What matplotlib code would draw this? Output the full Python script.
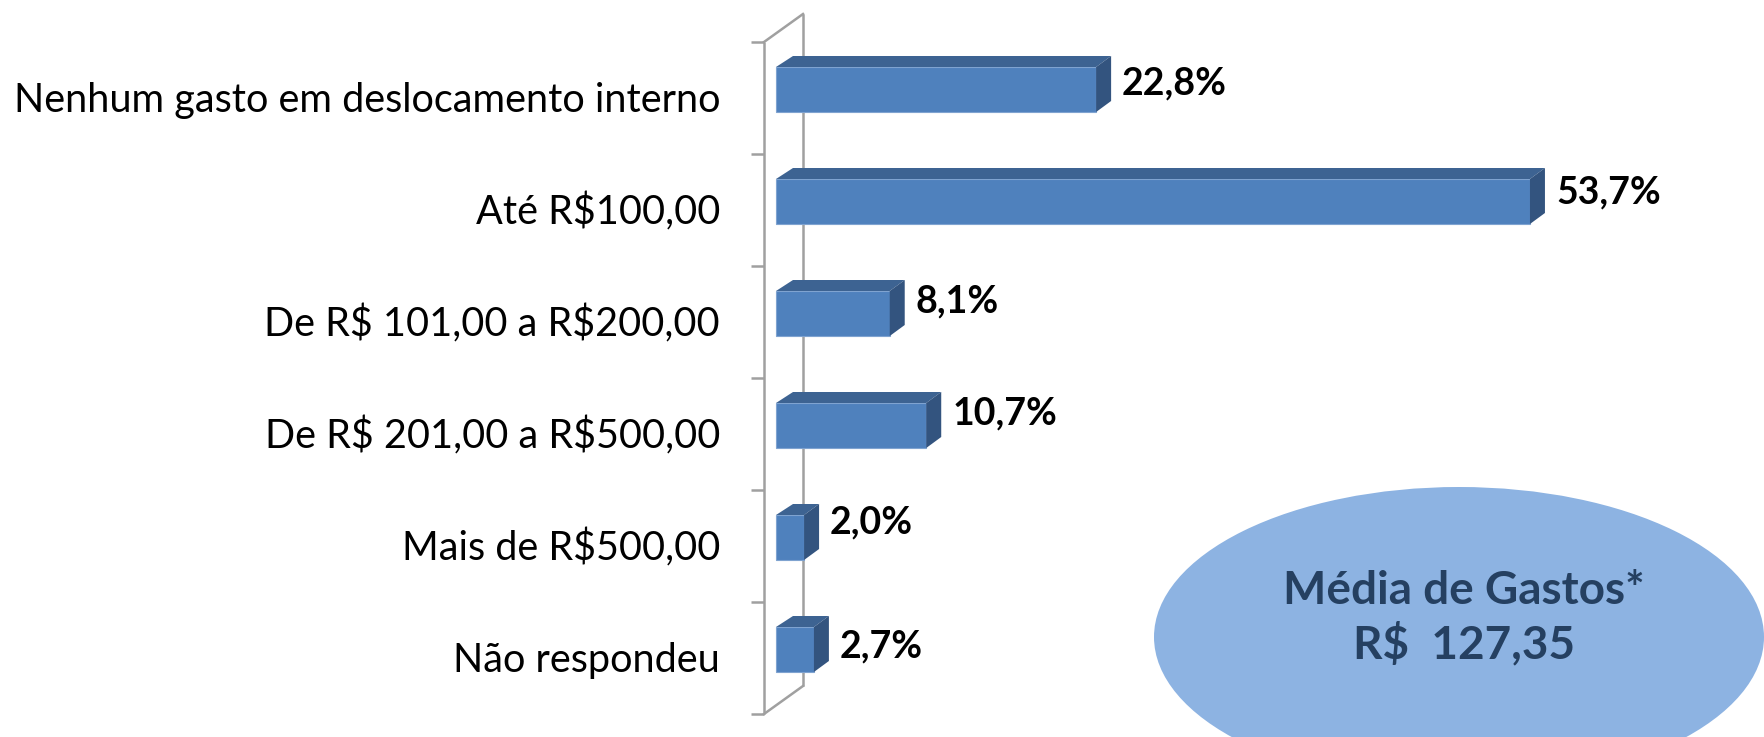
import matplotlib
matplotlib.use("Agg")
import matplotlib.pyplot as plt
from matplotlib.patches import Polygon, Rectangle, Ellipse

plt.rcParams["text.parse_math"] = False

categories = ["Nenhum gasto em deslocamento interno", "Até R$100,00",
              "De R$ 101,00 a R$200,00", "De R$ 201,00 a R$500,00",
              "Mais de R$500,00", "Não respondeu"]
values = [22.8, 53.7, 8.1, 10.7, 2.0, 2.7]
value_labels = ["22,8%", "53,7%", "8,1%", "10,7%", "2,0%", "2,7%"]
note_title = "Média de Gastos*"
note_value = "R$  127,35"

# layout (pixel-based scale helpers)
W, H, DPI = 17.65, 7.37, 100
PX_PER_PCT = 14.04
PX_PER_BAND = 112.0
X0_PX, Y0_PX = 776, 98

def px_x(p):
    return p / PX_PER_PCT

def px_y(p):
    return p / PX_PER_BAND

FONT = "Lato"
front_c = "#4F81BD"
top_c = "#3D6392"
side_c = "#33547F"
wall_c = "#A0A0A0"

fig = plt.figure(figsize=(W, H), dpi=DPI)
ax = fig.add_axes([0, 0, 1, 1])
ax.set_xlim(-X0_PX / PX_PER_PCT, (W * DPI - X0_PX) / PX_PER_PCT)
ax.set_ylim((H * DPI - Y0_PX) / PX_PER_BAND, -Y0_PX / PX_PER_BAND)
ax.axis("off")

n = len(categories)
# wall / axis
fx = px_x(-12)
bx = px_x(27)
wdy = px_y(-28)
top = -0.5
bot = n - 0.5
ax.plot([fx, fx], [top, bot], color=wall_c, lw=1.8, zorder=1, solid_capstyle="butt")
ax.plot([bx, bx], [top + wdy, bot + wdy], color=wall_c, lw=1.8, zorder=1, solid_capstyle="butt")
ax.plot([fx, bx], [top, top + wdy], color=wall_c, lw=1.8, zorder=1)
ax.plot([fx, bx], [bot, bot + wdy], color=wall_c, lw=1.8, zorder=1)
for k in range(n + 1):
    ax.plot([fx - px_x(13), fx], [top + k, top + k], color=wall_c, lw=1.8, zorder=1,
            solid_capstyle="butt")

# bars
f_top = px_y(-31)
f_h = px_y(45)
ddx_l = px_x(17)
ddx_r = px_x(15)
ddy = px_y(-11)
label_dy = [-16.5, -19.5, -22.5, -23, -25.5, -13.5]
for i, v in enumerate(values):
    yt = i + f_top
    yb = yt + f_h
    ax.add_patch(Rectangle((0, yt), v, f_h, facecolor=front_c, edgecolor="#7FA3D0",
                           lw=0.8, zorder=3))
    ax.add_patch(Polygon([(0, yt), (v, yt), (v + ddx_r, yt + ddy), (ddx_l, yt + ddy)],
                         closed=True, facecolor=top_c, edgecolor="none", zorder=3))
    ax.add_patch(Polygon([(v, yt), (v + ddx_r, yt + ddy), (v + ddx_r, yb + ddy), (v, yb)],
                         closed=True, facecolor=side_c, edgecolor="none", zorder=3))
    ax.text(v + ddx_r + px_x(11), i + px_y(label_dy[i] + 13), value_labels[i],
            fontsize=27, fontweight="bold", family=FONT, color="black",
            ha="left", va="baseline", zorder=5)
    ax.text(px_x(720 - X0_PX), i + px_y(14), categories[i], fontsize=28.5,
            family=FONT, color="black", ha="right", va="baseline", zorder=5)

# ellipse note
ex, ey = px_x(1459 - X0_PX), px_y(637 - Y0_PX)
ax.add_patch(Ellipse((ex, ey), px_x(610), px_y(300), facecolor="#8DB3E2",
                     edgecolor="none", zorder=2))
tx = px_x(1464 - X0_PX)
ax.text(tx, px_y(604 - Y0_PX), note_title, fontsize=33, fontweight="bold",
        family=FONT, color="#254061", ha="center", va="baseline", zorder=5)
ax.text(tx, px_y(658 - Y0_PX), note_value, fontsize=33, fontweight="bold",
        family=FONT, color="#254061", ha="center", va="baseline", zorder=5)

fig.savefig("out.png", dpi=DPI, facecolor="white")
